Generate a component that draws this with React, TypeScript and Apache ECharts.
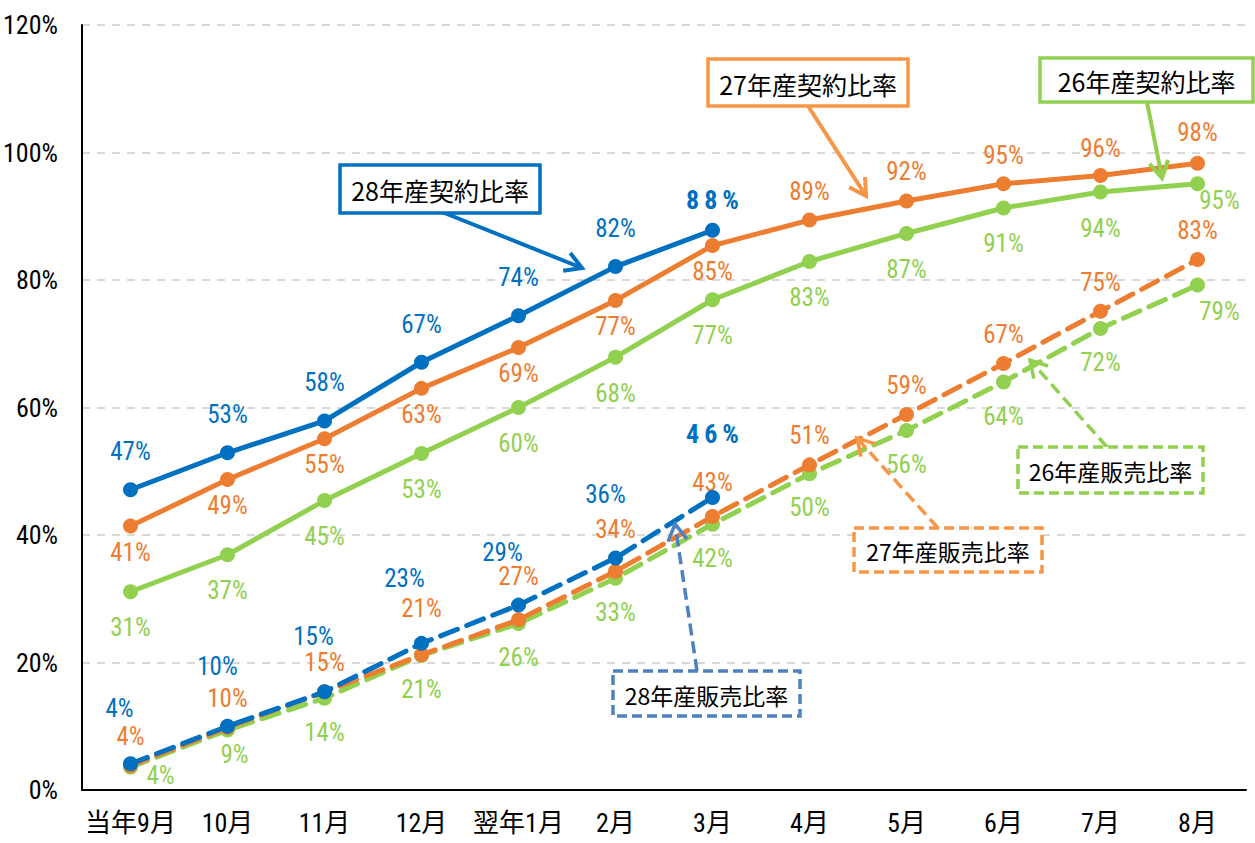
import React, { useEffect, useRef } from "react";
import * as echarts from "echarts";

const categories = ["当年9月", "10月", "11月", "12月", "翌年1月", "2月", "3月", "4月", "5月", "6月", "7月", "8月"];
const contract28 = [47.1, 52.9, 57.9, 67.1, 74.4, 82.1, 87.8];
const contract27 = [41.4, 48.7, 55.1, 63.0, 69.4, 76.8, 85.4, 89.4, 92.4, 95.1, 96.4, 98.3];
const contract26 = [31.1, 36.9, 45.4, 52.8, 60.0, 67.9, 76.9, 82.9, 87.3, 91.3, 93.8, 95.1];
const sales28 = [4.1, 10.0, 15.4, 23.0, 29.0, 36.4, 45.9];
const sales27 = [3.8, 9.8, 15.4, 21.2, 26.7, 34.3, 42.9, 51.0, 58.9, 66.9, 75.1, 83.2];
const sales26 = [3.6, 9.4, 14.4, 21.1, 26.1, 33.2, 41.7, 49.6, 56.4, 64.0, 72.4, 79.2];
const yTicks = [0, 20, 40, 60, 80, 100, 120];

const BLUE = "#0070C0";
const ORANGE = "#ED7D31";
const GREEN = "#92D050";
const FONT = "'Liberation Sans Narrow', 'Arial Narrow', 'Roboto Condensed', 'Noto Sans CJK JP', sans-serif";

type Ov = { [i: number]: { offset?: number[]; bold?: boolean } };

function makeData(values: number[], color: string, def: number[], ov: Ov) {
  return values.map((v, i) => {
    const o = ov[i] || {};
    return {
      value: v,
      label: {
        show: true,
        position: "inside",
        offset: o.offset || def,
        color,
        textBorderWidth: 0,
        fontFamily: FONT,
        fontSize: o.bold ? 26 : 25,
        fontWeight: o.bold ? "bold" : "normal",
        formatter: (p: any) =>
          o.bold ? Math.round(p.value).toString().split("").join("\u2009") + "\u2009%" : Math.round(p.value) + "%",
      },
    };
  });
}

function lineSeries(name: string, values: number[], color: string, dashed: boolean, def: number[], ov: Ov, z: number) {
  return {
    name,
    type: "line",
    data: makeData(values, color, def, ov),
    symbol: "circle",
    symbolSize: 15,
    z,
    itemStyle: { color },
    lineStyle: { color, width: 5, type: dashed ? [18, 10] : "solid", cap: dashed ? "round" : "butt" },
  };
}

function arrow(x1: number, y1: number, x2: number, y2: number, color: string, dashed: boolean) {
  const ang = Math.atan2(y2 - y1, x2 - x1);
  const L = 19;
  const a = Math.PI / 6;
  const p1 = [x2 - L * Math.cos(ang - a), y2 - L * Math.sin(ang - a)];
  const p2 = [x2 - L * Math.cos(ang + a), y2 - L * Math.sin(ang + a)];
  return [
    {
      type: "line",
      z: 100,
      shape: { x1, y1, x2, y2 },
      style: { stroke: color, lineWidth: dashed ? 3.5 : 4, lineDash: dashed ? [12, 6] : null },
    },
    {
      type: "polyline",
      z: 100,
      shape: { points: [p1, [x2, y2], p2] },
      style: { stroke: color, lineWidth: dashed ? 3.5 : 4, fill: null },
    },
  ];
}

function box(x: number, y: number, w: number, h: number, text: string, color: string, dashed: boolean, fs: number) {
  return [
    {
      type: "rect",
      z: 101,
      shape: { x, y, width: w, height: h },
      style: { fill: "#fff", stroke: color, lineWidth: 3.5, lineDash: dashed ? [10, 5] : null },
    },
    {
      type: "text",
      z: 102,
      x: x + w / 2,
      y: y + h / 2 + 1,
      style: {
        text,
        fill: "#000",
        fontSize: fs,
        fontFamily: "'Noto Sans CJK JP', sans-serif",
        align: "center",
        verticalAlign: "middle",
      },
    },
  ];
}

export default function App() {
  const ref = useRef<HTMLDivElement>(null);
  useEffect(() => {
    if (!ref.current) return;
    const chart = echarts.init(ref.current, null, { renderer: "svg" });
    const graphic = [
      ...arrow(442, 212, 582, 268, BLUE, false),
      ...box(340, 165, 200, 48, "28年産契約比率", BLUE, false, 25),
      ...arrow(808, 106, 866, 196, "#F79646", false),
      ...box(708, 59, 200, 47, "27年産契約比率", "#F79646", false, 25),
      ...arrow(1147, 102, 1162, 178, GREEN, false),
      ...box(1040, 58, 213, 44, "26年産契約比率", GREEN, false, 25),
      ...arrow(697, 671, 675, 524, "#4F81BD", true),
      ...box(613, 671, 187, 45, "28年産販売比率", "#4F81BD", true, 23),
      ...arrow(938, 528, 857, 438, "#F79646", true),
      ...box(854, 528, 188, 44, "27年産販売比率", "#F79646", true, 23),
      ...arrow(1107, 447, 1030, 360, GREEN, true),
      ...box(1018, 447, 185, 46, "26年産販売比率", GREEN, true, 23),
    ];
    chart.setOption({
      animation: false,
      grid: { left: 82, right: 9, top: 25, bottom: 53 },
      xAxis: {
        type: "category",
        data: categories,
        boundaryGap: true,
        axisTick: { show: false },
        axisLine: { lineStyle: { color: "#000", width: 2 } },
        axisLabel: { color: "#000", fontSize: 26, fontFamily: FONT, margin: 20, interval: 0 },
      },
      yAxis: {
        type: "value",
        min: yTicks[0],
        max: yTicks[yTicks.length - 1],
        interval: 20,
        axisLine: { show: true, lineStyle: { color: "#000", width: 2 } },
        axisTick: { show: false },
        axisLabel: { color: "#000", fontSize: 26, fontFamily: FONT, margin: 24, formatter: "{value}%" },
        splitLine: { lineStyle: { color: "#D9D9D9", width: 2, type: [8, 7] } },
      },
      series: [
        lineSeries("26年産契約比率", contract26, GREEN, false, [0, 36], { 11: { offset: [22, 17] } }, 2),
        lineSeries("26年産販売比率", sales26, GREEN, true, [0, 34], { 0: { offset: [30, 8] }, 1: { offset: [7, 24] }, 11: { offset: [22, 26] } }, 3),
        lineSeries("27年産契約比率", contract27, ORANGE, false, [0, 26], { 7: { offset: [0, -29] }, 8: { offset: [0, -29] }, 9: { offset: [0, -28] }, 10: { offset: [0, -27] }, 11: { offset: [0, -31] } }, 4),
        lineSeries("27年産販売比率", sales27, ORANGE, true, [0, -29], { 3: { offset: [0, -46] }, 4: { offset: [0, -43] }, 5: { offset: [0, -42] }, 6: { offset: [0, -34] } }, 5),
        lineSeries("28年産契約比率", contract28, BLUE, false, [0, -38], { 6: { offset: [0, -30], bold: true } }, 6),
        lineSeries("28年産販売比率", sales28, BLUE, true, [-11, -55], { 1: { offset: [-10, -60] }, 3: { offset: [-17, -65] }, 4: { offset: [-16, -53] }, 5: { offset: [-10, -63] }, 6: { offset: [0, -63], bold: true } }, 7),
      ],
      graphic,
    });
    return () => chart.dispose();
  }, []);
  return <div ref={ref} style={{ position: "fixed", left: 0, top: 0, width: 1255, height: 843, background: "#fff" }} />;
}
